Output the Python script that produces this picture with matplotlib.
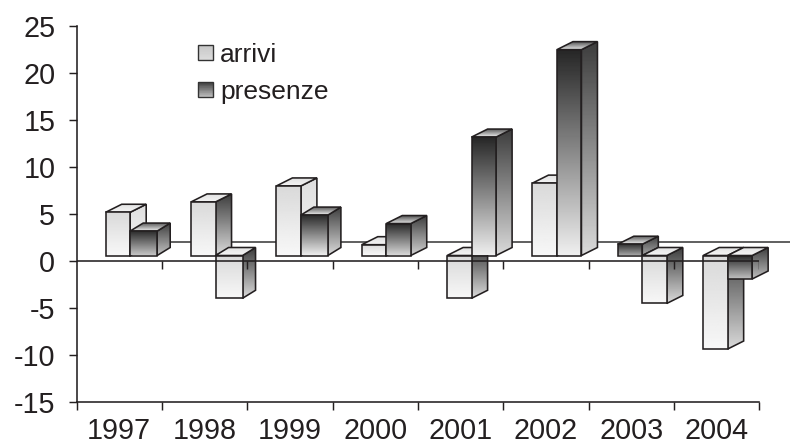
import numpy as np
import matplotlib
matplotlib.use("Agg")
import matplotlib.pyplot as plt
from matplotlib.patches import Polygon, Rectangle, Patch
from matplotlib.legend_handler import HandlerBase

years = ["1997", "1998", "1999", "2000", "2001", "2002", "2003", "2004"]
arrivi = [4.6, 5.7, 7.4, 1.15, -4.55, 7.7, 1.2, -9.95]
presenze = [2.6, -4.55, 4.3, 3.4, 12.6, 21.9, -5.1, -2.5]
# shading per bar: front, side, cap (L = light, D = dark)
arrivi_shade = ["LLL", "LDL", "LLL", "LLL", "LDL", "LLL", "DDD", "LDL"]
presenze_shade = ["DDD", "LDL", "DDD", "DDD", "DDD", "DDD", "LDL", "DDL"]

INK = "#231f20"
W, H = 790, 444
plt.rcParams["font.family"] = ["Liberation Sans", "DejaVu Sans"]
plt.rcParams["axes.unicode_minus"] = False
fig = plt.figure(figsize=(W / 100, H / 100), dpi=100)

L, R, T, B = 76.5, 759.3, 25.7, 401.7
ax = fig.add_axes([L / W, 1 - B / H, (R - L) / W, (B - T) / H])
ax.set_xlim(0, len(years))
ax.set_ylim(-15, 25)
ax.set_autoscale_on(False)
PX = (R - L) / len(years)
PY = (B - T) / 40

BASE = 5.2 / PY
DY = 8.0 / PY
LEFT = 29.2 / PX
zc = [3]


def face(pts, top, bottom):
    zc[0] += 1
    poly = Polygon(pts, closed=True, fc="none", ec=INK, lw=1.15,
                   joinstyle="miter", zorder=zc[0] + 0.5, clip_on=False)
    ax.add_patch(poly)
    xs, ys = zip(*pts)
    grad = np.linspace(top, bottom, 64).reshape(-1, 1)
    im = ax.imshow(grad, cmap="gray", vmin=0, vmax=1, aspect="auto",
                   extent=(min(xs), max(xs), min(ys), max(ys)),
                   interpolation="bilinear", zorder=zc[0])
    im.set_clip_box(fig.bbox)
    im.set_clip_path(poly)


def front_grad(style, h):
    if style == "L":
        return 0.85, 0.97
    return 0.15, min(0.93, 0.52 + h / 100)


def side_grad(style, h):
    if style == "L":
        return 0.87, 0.96
    return 0.24, min(0.85, 0.55 + h / 120)


def cap_grad(style):
    return (0.88, 0.96) if style == "L" else (0.36, 0.93)


def bar3d(x0, width, dx, value, shade):
    y0 = BASE
    y1 = BASE + value
    ymax = max(y0, y1)
    ymin = min(y0, y1)
    x1 = x0 + width
    h = abs(value) * PY
    face([(x1, ymin), (x1 + dx, ymin + DY), (x1 + dx, ymax + DY), (x1, ymax)], *side_grad(shade[1], h))
    face([(x0, ymax), (x0 + dx, ymax + DY), (x1 + dx, ymax + DY), (x1, ymax)], *cap_grad(shade[2]))
    face([(x0, ymin), (x1, ymin), (x1, ymax), (x0, ymax)], *front_grad(shade[0], h))


# back-wall zero line
ax.plot([(130 - L) / PX, (W - L) / PX], [2.0, 2.0], color="#3c3c3c", lw=1.15,
        clip_on=False, zorder=2)

for i in range(len(years)):
    xa = i + LEFT
    wa = 24.5 / PX
    bar3d(xa, wa, 16 / PX, arrivi[i], arrivi_shade[i])
    wp, dp = (27 / PX, 13 / PX) if i < 3 else (24.5 / PX, 16 / PX)
    bar3d(xa + wa, wp, dp, presenze[i], presenze_shade[i])

# front zero line with its ticks, drawn over the bars
ax.axhline(0, color=INK, lw=1.15, zorder=100)
ax.vlines(np.arange(1, len(years) + 1), -8 / PY, 0, color=INK, lw=1.05, zorder=100)

for s in ("top", "right"):
    ax.spines[s].set_visible(False)
for s in ("left", "bottom"):
    ax.spines[s].set_color(INK)
    ax.spines[s].set_linewidth(1.15)

ax.set_yticks(np.arange(-15, 26, 5))
ax.set_xticks(np.arange(len(years) + 1))
ax.set_xticklabels([])
ax.set_xticks(np.arange(len(years)) + 0.5, labels=years, minor=True)
ax.tick_params(axis="y", direction="out", length=5.8, width=1.05, color=INK,
               labelsize=20.7, labelcolor=INK, pad=9.5)
ax.tick_params(axis="x", which="major", direction="out", length=5.8, width=1.05, color=INK)
ax.tick_params(axis="x", which="minor", length=0, labelsize=20.7, labelcolor=INK, pad=11)


class GradientHandle(Patch):
    def __init__(self, top, bottom, **kw):
        super().__init__(**kw)
        self.top, self.bottom = top, bottom


class GradientHandler(HandlerBase):
    def create_artists(self, legend, orig, xd, yd, width, height, fontsize, trans):
        n = 24
        arts = []
        for k, g in enumerate(np.linspace(orig.top, orig.bottom, n)):
            y = -yd + height * (1 - (k + 1) / n)
            arts.append(Rectangle((-xd, y), width, height / n + 0.2, fc=str(g), ec="none", transform=trans))
        arts.append(Rectangle((-xd, -yd), width, height, fc="none", ec="#333333", lw=1.0, transform=trans))
        return arts


handles = [GradientHandle(0.78, 0.86, label="arrivi"), GradientHandle(0.25, 0.75, label="presenze")]
ax.legend(handles=handles, handler_map={GradientHandle: GradientHandler()},
          loc="upper left", bbox_to_anchor=(198 / W, 1 - 43 / H), bbox_transform=fig.transFigure,
          frameon=False, fontsize=19, labelcolor=INK, borderpad=0, borderaxespad=0,
          handlelength=0.57, handleheight=0.5, handletextpad=0.27, labelspacing=0.5)

fig.savefig("out.png", dpi=100)
